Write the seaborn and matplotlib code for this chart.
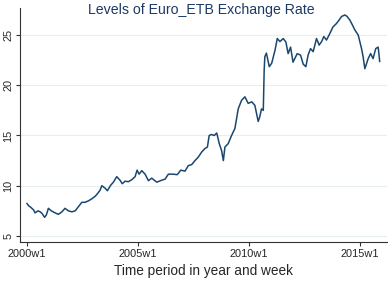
import numpy as np
import pandas as pd
import matplotlib.pyplot as plt
import seaborn as sns

# Euro/ETB weekly exchange rate
year = [2000.00, 2000.08, 2000.15, 2000.30, 2000.37, 2000.50, 2000.60, 2000.68, 2000.80, 2000.88,
        2000.97, 2001.10, 2001.27, 2001.42, 2001.58, 2001.72, 2001.87, 2002.03, 2002.18, 2002.32,
        2002.48, 2002.63, 2002.78, 2002.93, 2003.08, 2003.18, 2003.30, 2003.38, 2003.53, 2003.63,
        2003.78, 2003.90, 2004.05, 2004.20, 2004.30, 2004.43, 2004.58, 2004.73, 2004.88, 2004.97,
        2005.06, 2005.18, 2005.33, 2005.48, 2005.63, 2005.86, 2006.08, 2006.23, 2006.38, 2006.60,
        2006.78, 2006.94, 2007.13, 2007.28, 2007.43, 2007.58, 2007.73, 2007.88, 2008.03, 2008.14,
        2008.22, 2008.33, 2008.45, 2008.56, 2008.68, 2008.78, 2008.86, 2008.93, 2009.08, 2009.23,
        2009.38, 2009.53, 2009.68, 2009.83, 2009.98, 2010.14, 2010.28, 2010.43, 2010.50, 2010.58,
        2010.66, 2010.70, 2010.73, 2010.80, 2010.93, 2011.04, 2011.19, 2011.29, 2011.41, 2011.56,
        2011.68, 2011.78, 2011.89, 2012.00, 2012.19, 2012.34, 2012.46, 2012.58, 2012.68, 2012.79,
        2012.91, 2013.06, 2013.18, 2013.29, 2013.39, 2013.51, 2013.66, 2013.80, 2013.96, 2014.08,
        2014.19, 2014.34, 2014.44, 2014.56, 2014.68, 2014.79, 2014.94, 2015.09, 2015.16, 2015.24,
        2015.39, 2015.50, 2015.61, 2015.73, 2015.84, 2015.91]
rate = [8.25, 8.0, 7.9, 7.6, 7.3, 7.5, 7.4, 7.25, 6.85, 7.1,
        7.75, 7.5, 7.3, 7.15, 7.4, 7.75, 7.5, 7.4, 7.5, 7.9,
        8.35, 8.35, 8.5, 8.7, 8.95, 9.2, 9.55, 10.0, 9.75, 9.5,
        10.05, 10.35, 10.9, 10.55, 10.2, 10.45, 10.4, 10.6, 10.9, 11.55,
        11.15, 11.5, 11.15, 10.5, 10.75, 10.35, 10.55, 10.65, 11.15, 11.15,
        11.1, 11.55, 11.45, 12.0, 12.1, 12.5, 12.85, 13.35, 13.7, 13.85,
        15.0, 15.1, 15.0, 15.25, 14.15, 13.5, 12.5, 13.85, 14.2, 15.0,
        15.7, 17.65, 18.5, 18.85, 18.2, 18.35, 18.0, 16.4, 16.85, 17.65,
        17.5, 21.5, 22.85, 23.2, 21.85, 22.2, 23.5, 24.65, 24.35, 24.65,
        24.3, 23.15, 23.8, 22.3, 23.15, 23.0, 22.1, 21.85, 23.0, 23.65,
        23.35, 24.65, 24.0, 24.35, 24.85, 24.5, 25.15, 25.8, 26.15, 26.5,
        26.85, 27.0, 26.85, 26.5, 26.0, 25.5, 25.0, 23.65, 22.85, 21.65,
        22.65, 23.15, 22.65, 23.65, 23.8, 22.35]
tick_labels = ['2000w1', '2005w1', '2010w1', '2015w1']

# weeks since 2000w1
df = pd.DataFrame({'week': (np.array(year) - 2000) * 52, 'rate': rate})

sns.set_style('white')
plt.rcParams['font.family'] = ['Liberation Sans', 'DejaVu Sans']

fig = plt.figure(figsize=(3.88, 2.83), dpi=100)
ax = fig.add_axes([0.052, 0.145, 0.945, 0.827])

sns.lineplot(data=df, x='week', y='rate', color='#1a476f', linewidth=1.1, ax=ax)

ax.set_xlim(-15.7, 844)
ax.set_ylim(4.4, 27.7)
ax.set_xticks([0, 260, 520, 780])
ax.set_xticklabels(tick_labels)
ax.set_yticks([5, 10, 15, 20, 25])
ax.set_yticklabels(['5', '10', '15', '20', '25'], rotation=90, va='center')
ax.tick_params(axis='both', labelsize=7.9, length=3, width=0.8, color='#333333',
               direction='out', pad=2, left=True, bottom=True)
ax.grid(axis='y', color='#e6eef0', linewidth=0.8)
ax.set_axisbelow(True)

for s in ['top', 'right']:
    ax.spines[s].set_visible(False)
for s in ['left', 'bottom']:
    ax.spines[s].set_color('#333333')
    ax.spines[s].set_linewidth(0.8)

ax.set_ylabel('')
ax.set_xlabel('Time period in year and week', fontsize=9.8, labelpad=4)
fig.text(0.52, 0.965, 'Levels of Euro_ETB Exchange Rate', ha='center', va='center',
         fontsize=10.2, color='#1c3a66')

fig.savefig('out.png', dpi=100)
